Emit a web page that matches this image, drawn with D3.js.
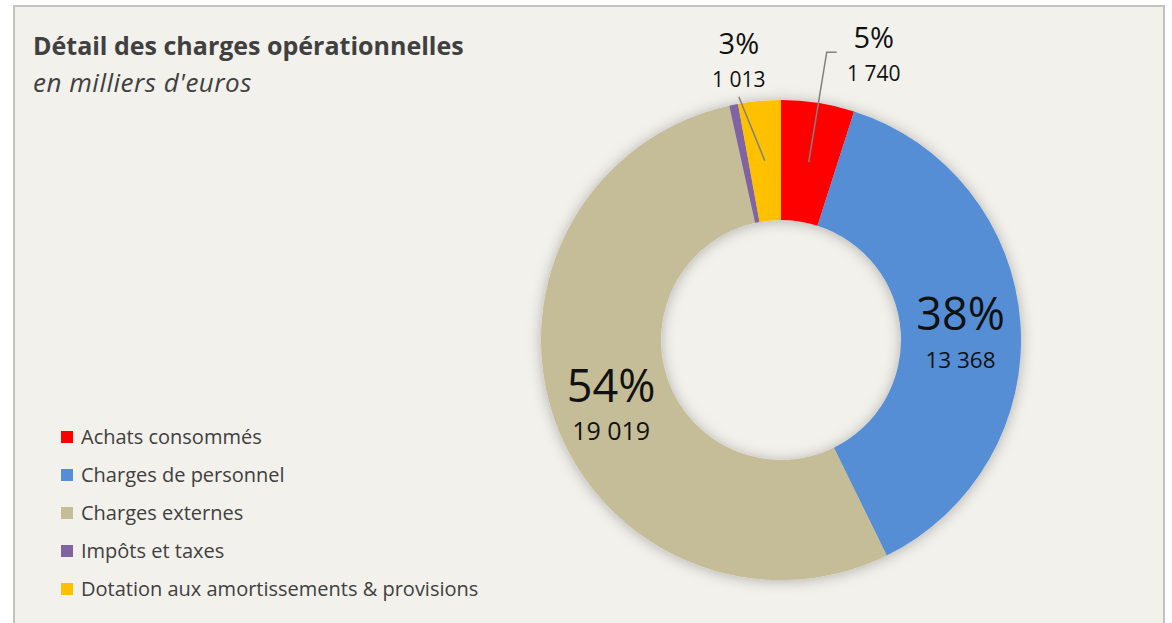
<!DOCTYPE html>
<html>
<head>
<meta charset="utf-8">
<script src="https://cdn.jsdelivr.net/npm/d3@7"></script>
<style>
  html, body { margin: 0; padding: 0; background: #fff; }
  svg { display: block; font-family: "Open Sans", sans-serif; }
</style>
</head>
<body>
<svg id="chart"></svg>
<script>
// Data
var categories = ["Achats consommés", "Charges de personnel", "Charges externes", "Impôts et taxes", "Dotation aux amortissements & provisions"];
var values = [1740, 13368, 19019, 210, 1013];
var colors = ["#ff0000", "#558ed5", "#c4bd97", "#8064a2", "#ffc000"];
// which slices get a label inside the ring, which get one outside with a leader line
var labelModes = ["outside", "inside", "inside", "none", "outside"];

var width = 1172, height = 623;
var cx = 781, cy = 340, outerR = 240, innerR = 120;

var svg = d3.select("#chart")
    .attr("width", width)
    .attr("height", height);

// Drop shadow around the ring
var defs = svg.append("defs");
var filter = defs.append("filter")
    .attr("id", "shadow")
    .attr("x", "-20%").attr("y", "-20%")
    .attr("width", "140%").attr("height", "140%");
filter.append("feDropShadow")
    .attr("dx", 0).attr("dy", 1)
    .attr("stdDeviation", 7)
    .attr("flood-color", "#000")
    .attr("flood-opacity", 0.28);

// Panel background and frame
svg.append("rect")
    .attr("x", 14).attr("y", 6)
    .attr("width", 1150).attr("height", 640)
    .attr("fill", "#f3f1ec")
    .attr("stroke", "#c3c2bf")
    .attr("stroke-width", 2);

// Title
svg.append("text")
    .attr("x", 33).attr("y", 55)
    .attr("font-size", 25)
    .attr("font-weight", "bold")
    .attr("fill", "#404040")
    .text("Détail des charges opérationnelles");

svg.append("text")
    .attr("x", 33).attr("y", 92)
    .attr("font-size", 26)
    .attr("letter-spacing", 0.5)
    .attr("font-style", "italic")
    .attr("fill", "#404040")
    .text("en milliers d'euros");

// Donut
var total = d3.sum(values);
var fr = d3.formatLocale({decimal: ",", thousands: "\u00a0", grouping: [3], currency: ["", " €"]});
var fmtVal = fr.format(",d");
var fmtPct = function(v) { return Math.round(v / total * 100) + "%"; };

var pie = d3.pie()
    .sort(null)
    .value(function(d) { return d; });

var arcs = pie(values);

var arc = d3.arc()
    .innerRadius(innerR)
    .outerRadius(outerR);

var labelArc = d3.arc()
    .innerRadius((innerR + outerR) / 2)
    .outerRadius((innerR + outerR) / 2);

var ring = svg.append("g")
    .attr("transform", "translate(" + cx + "," + cy + ")");

ring.append("g")
    .attr("filter", "url(#shadow)")
  .selectAll("path")
  .data(arcs)
  .enter()
  .append("path")
    .attr("d", arc)
    .attr("fill", function(d, i) { return colors[i]; });

// Inside labels (big percentages) at the slice centroid
var valueSize = { 1: 22.5, 2: 25 };
arcs.forEach(function(d, i) {
  var c = labelArc.centroid(d);
  if (labelModes[i] === "inside") {
    ring.append("text")
        .attr("x", c[0]).attr("y", c[1] + 3)
        .attr("text-anchor", "middle")
        .attr("font-size", 45)
        .attr("fill", "#111")
        .text(fmtPct(values[i]));
    ring.append("text")
        .attr("x", c[0]).attr("y", c[1] + 41)
        .attr("text-anchor", "middle")
        .attr("font-size", valueSize[i])
        .attr("fill", "#111")
        .text(fmtVal(values[i]));
  }
});

// Outside labels with leader lines: offsets of the label block from the centroid
var outsideOffset = { 0: [65, -76], 4: [-26, -69] };
arcs.forEach(function(d, i) {
  if (labelModes[i] !== "outside") return;
  var c = labelArc.centroid(d);
  var off = outsideOffset[i];
  var lx = c[0] + off[0], ly = c[1] + off[1];

  ring.append("text")
      .attr("x", lx).attr("y", ly - 38)
      .attr("text-anchor", "middle")
      .attr("font-size", 29)
      .attr("fill", "#111")
      .text(fmtPct(values[i]));
  ring.append("text")
      .attr("x", lx).attr("y", ly - 5)
      .attr("text-anchor", "middle")
      .attr("font-size", 21)
      .attr("fill", "#111")
      .text(fmtVal(values[i]));

  var pts;
  if (i === 0) {
    // tick on the left of the label, then down to the slice
    pts = [[c[0] + 28, c[1] - 110], [c[0] + 18, c[1] - 110], c];
  } else {
    pts = [[c[0] - 26, c[1] - 64], c];
  }
  ring.append("path")
      .attr("d", d3.line()(pts))
      .attr("fill", "none")
      .attr("stroke", "#808080")
      .attr("stroke-width", 1.5);
});

// Legend
var legend = svg.append("g")
    .attr("transform", "translate(61, 437)");

var rows = legend.selectAll("g")
    .data(categories)
  .enter()
  .append("g")
    .attr("transform", function(d, i) { return "translate(0," + (i * 38) + ")"; });

rows.append("rect")
    .attr("x", 0).attr("y", -6)
    .attr("width", 12).attr("height", 12)
    .attr("fill", function(d, i) { return colors[i]; });

rows.append("text")
    .attr("x", 20).attr("y", 7)
    .attr("font-size", 20)
    .attr("fill", "#404040")
    .text(function(d) { return d; });
</script>
</body>
</html>
